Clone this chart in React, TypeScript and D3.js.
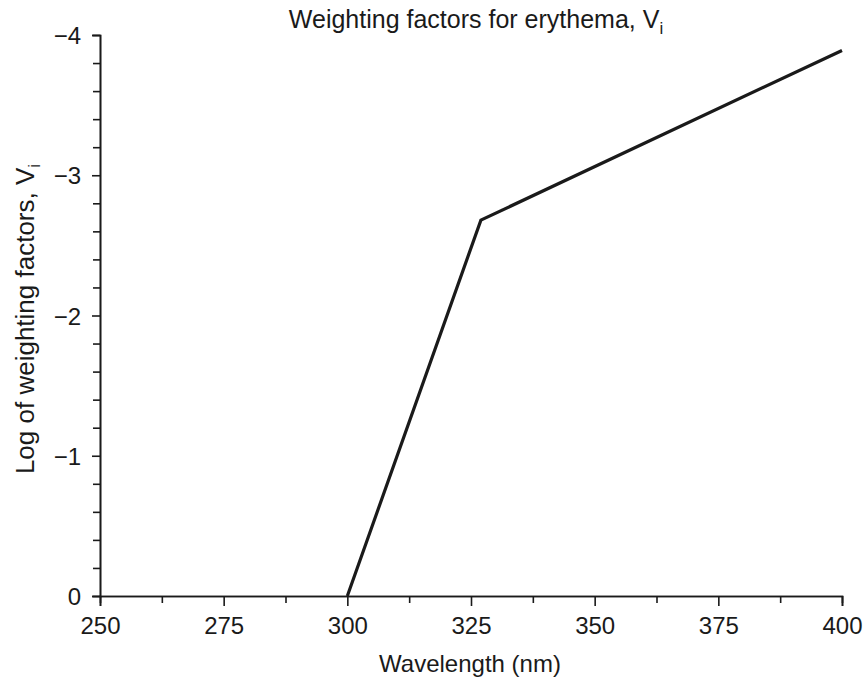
import React, { useEffect, useRef } from 'react';
import * as d3 from 'd3';

// Wavelength (nm) and log of weighting factor
const wavelengths = [300, 327, 400];
const logFactors = [0, -2.68, -3.89];

const xMajorTicks = [250, 275, 300, 325, 350, 375, 400];
const xMinorTicks = [262.5, 287.5, 312.5, 337.5, 362.5, 387.5];
const yMajorTicks = [0, -1, -2, -3, -4];
const yMinorTicks = [-0.2, -0.4, -0.6, -0.8, -1.2, -1.4, -1.6, -1.8, -2.2, -2.4, -2.6, -2.8, -3.2, -3.4, -3.6, -3.8];

const App: React.FC = () => {
    const ref = useRef<SVGSVGElement | null>(null);

    useEffect(() => {
        if (!ref.current) return;
        const width = 864;
        const height = 681;
        const margin = { top: 35, right: 22, bottom: 85, left: 100 };
        const font = 'Arial, "Liberation Sans", Helvetica, sans-serif';
        const ink = '#1a1a1a';

        const svg = d3.select(ref.current);
        svg.selectAll('*').remove();
        svg.attr('width', width).attr('height', height);

        const x = d3.scaleLinear().domain([250, 400]).range([margin.left, width - margin.right]);
        const y = d3.scaleLinear().domain([0, -4]).range([height - margin.bottom, margin.top]);

        const fmt = (v: number) => (v < 0 ? '\u2212' + Math.abs(v) : String(v));

        // x axis
        const xAxis = svg.append('g')
            .attr('transform', `translate(0,${y(0)})`);
        xAxis.call(d3.axisBottom(x).tickValues(xMinorTicks).tickSize(7).tickFormat(() => ''));
        xAxis.append('g').call(d3.axisBottom(x).tickValues(xMajorTicks).tickSize(10).tickPadding(11).tickFormat(d => fmt(+d)));

        // y axis
        const yAxis = svg.append('g')
            .attr('transform', `translate(${x(250)},0)`);
        yAxis.call(d3.axisLeft(y).tickValues(yMinorTicks).tickSize(7).tickFormat(() => ''));
        yAxis.append('g').call(d3.axisLeft(y).tickValues(yMajorTicks).tickSize(8).tickPadding(11).tickFormat(d => fmt(+d)));

        svg.selectAll('.domain').attr('stroke', ink).attr('stroke-width', 1.6);
        svg.selectAll('.tick line').attr('stroke', ink).attr('stroke-width', 1.6);
        svg.selectAll('.tick text')
            .attr('font-family', font)
            .attr('font-size', 24)
            .attr('fill', ink);
        yAxis.selectAll('.tick text').attr('dy', '0.36em');

        // data line
        const pts: [number, number][] = wavelengths.map((w, i) => [w, logFactors[i]]);
        svg.append('path')
            .datum(pts)
            .attr('fill', 'none')
            .attr('stroke', ink)
            .attr('stroke-width', 3.2)
            .attr('stroke-linejoin', 'miter')
            .attr('d', d3.line<[number, number]>().x(d => x(d[0])).y(d => y(d[1])));

        // title
        const title = svg.append('text')
            .attr('x', 476)
            .attr('y', 28)
            .attr('text-anchor', 'middle')
            .attr('font-family', font)
            .attr('font-size', 25)
            .attr('fill', ink);
        title.append('tspan').text('Weighting factors for erythema, V');
        title.append('tspan').attr('font-size', 17).attr('dy', 6).text('i');

        // x label
        svg.append('text')
            .attr('x', 470)
            .attr('y', 672)
            .attr('text-anchor', 'middle')
            .attr('font-family', font)
            .attr('font-size', 24)
            .attr('fill', ink)
            .text('Wavelength (nm)');

        // y label
        const ylab = svg.append('text')
            .attr('transform', `translate(34,319) rotate(-90)`)
            .attr('text-anchor', 'middle')
            .attr('font-family', font)
            .attr('font-size', 26)
            .attr('fill', ink);
        ylab.append('tspan').text('Log of weighting factors, V');
        ylab.append('tspan').attr('font-size', 17).attr('dy', 6).text('i');
    }, []);

    return (
        <svg ref={ref} style={{ position: 'absolute', left: 0, top: 0, background: '#fff' }} />
    );
};

export default App;
